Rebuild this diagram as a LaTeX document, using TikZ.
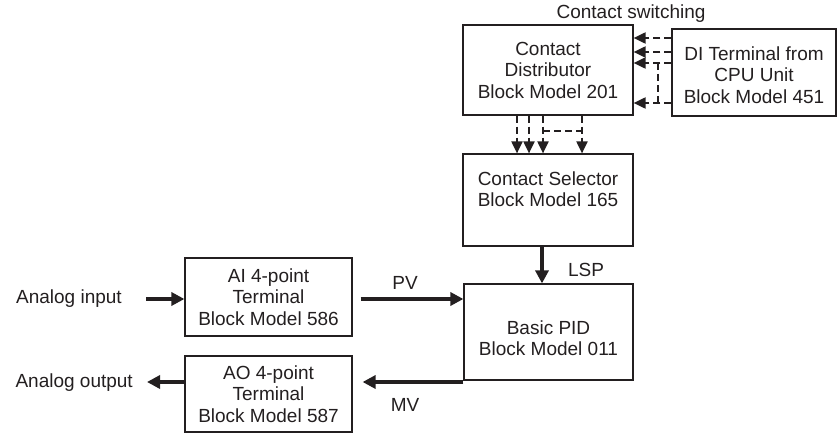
\documentclass[tikz,border=0pt]{standalone}
\usepackage{fontspec}
\setmainfont{Liberation Sans}
\usetikzlibrary{arrows.meta,calc}
\definecolor{ink}{HTML}{231F20}
\begin{document}
\begin{tikzpicture}[x=1pt,y=-1pt,
  every node/.style={font=\fontsize{19}{21.5}\selectfont, text=ink},
  box/.style={draw=ink, line width=1.2pt, inner sep=0pt, align=center},
  txt/.style={align=center, inner sep=0pt},
  thickarrow/.style={draw=ink, line width=4pt, -{Triangle[length=13pt,width=13pt]}},
  dasharrow/.style={draw=ink, line width=2pt, dash pattern=on 7pt off 4pt, -{Triangle[length=12pt,width=11pt]}},
  dashline/.style={draw=ink, line width=2pt, dash pattern=on 7pt off 4pt}]
\useasboundingbox (0,0) rectangle (837,433);

% boxes
\node[box, minimum width=170pt, minimum height=90pt] (cd) at (548,70) {Contact\\Distributor\\Block Model 201};
\node[box, minimum width=164pt, minimum height=87pt] (di) at (754,72.5) {};
\node[txt] (dit) at (754,75) {DI Terminal from\\CPU Unit\\Block Model 451};
\node[box, minimum width=170pt, minimum height=92pt] (cs) at (548,200) {};
\node[txt] (cst) at (548,189) {Contact Selector\\Block Model 165};
\node[box, minimum width=169pt, minimum height=96pt] (pid) at (548.5,332) {};
\node[txt] (pidt) at (548.5,338) {Basic PID\\Block Model 011};
\node[box, minimum width=167pt, minimum height=78pt] (ai) at (268.5,297) {AI 4-point\\Terminal\\Block Model 586};
\node[box, minimum width=167pt, minimum height=76pt] (ao) at (268.5,394) {AO 4-point\\Terminal\\Block Model 587};

% labels
\node[txt] (sw) at (631,14) {Contact switching};
\node[txt, anchor=east] (ain) at (122,299) {Analog input};
\node[txt, anchor=east] (aout) at (133,383) {Analog output};
\node[txt] (pv) at (405,283) {PV};
\node[txt] (mv) at (405,405) {MV};
\node[txt] (lsp) at (586,270) {LSP};

% free ends
\coordinate (ainend) at (146,299);
\coordinate (aoutend) at (147,382);

% solid arrows
\draw[thickarrow] (ainend) -- (ainend -| ai.west);
\draw[thickarrow] (ao.west |- aoutend) -- (aoutend);
\draw[thickarrow] (ai.east |- 0,299) ++(8,0) -- (pid.west |- 0,299);
\draw[thickarrow] (pid.west |- 0,382) -- ($(ao.east |- 0,382)+(10,0)$);
\draw[thickarrow] (cs.south -| 542,0) -- (pid.north -| 542,0);

% dashed arrows DI -> distributor
\foreach \yy in {38,52,63,103}{
  \draw[dasharrow] (di.west |- 0,\yy) -- (cd.east |- 0,\yy);
}
\draw[dashline] (658,63) -- (658,103);

% dashed arrows distributor -> selector
\foreach \xx in {517,529,543,582}{
  \draw[dasharrow] (cd.south -| \xx,0) -- (cs.north -| \xx,0);
}
\draw[dashline] (543,131) -- (582,131);
\end{tikzpicture}
\end{document}
